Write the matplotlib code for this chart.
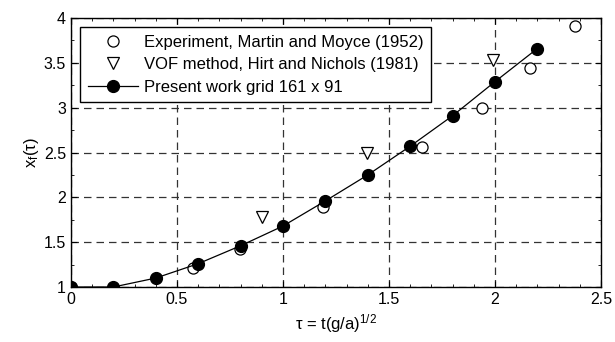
import numpy as np
import matplotlib
matplotlib.use('Agg')
import matplotlib.pyplot as plt
from matplotlib.ticker import MultipleLocator

# Present work grid 161 x 91
TAU_PRESENT = [0.0, 0.2, 0.4, 0.6, 0.8, 1.0, 1.2, 1.4, 1.6, 1.8, 2.0, 2.2]
XF_PRESENT = [1.0, 1.0, 1.10, 1.26, 1.46, 1.68, 1.96, 2.25, 2.57, 2.91, 3.29, 3.66]

# Experiment, Martin and Moyce (1952)
TAU_EXP = [0.0, 0.575, 0.795, 1.19, 1.655, 1.937, 2.165, 2.378]
XF_EXP = [1.0, 1.215, 1.42, 1.89, 2.56, 3.0, 3.44, 3.91]

# VOF method, Hirt and Nichols (1981)
TAU_VOF = [0.902, 1.395, 1.99]
XF_VOF = [1.78, 2.50, 3.53]

XTICKS = [0, 0.5, 1, 1.5, 2, 2.5]
XTICKLABELS = ['0', '0.5', '1', '1.5', '2', '2.5']
YTICKS = [1, 1.5, 2, 2.5, 3, 3.5, 4]
YTICKLABELS = ['1', '1.5', '2', '2.5', '3', '3.5', '4']

plt.rcParams['font.family'] = ['Liberation Sans', 'DejaVu Sans']
plt.rcParams['mathtext.fontset'] = 'custom'
plt.rcParams['mathtext.rm'] = 'Liberation Sans'
plt.rcParams['mathtext.it'] = 'Liberation Sans'

fig = plt.figure(figsize=(6.15, 3.42), dpi=100)
ax = fig.add_axes([0.1154, 0.1608, 0.8618, 0.7865])

ax.plot(TAU_EXP, XF_EXP, 'o', mfc='white', mec='black', ms=8, mew=0.9,
        label='Experiment, Martin and Moyce (1952)', zorder=3)
ax.plot(TAU_VOF, XF_VOF, 'v', mfc='white', mec='black', ms=8, mew=0.9,
        label='VOF method, Hirt and Nichols (1981)', zorder=3)
ax.plot(TAU_PRESENT, XF_PRESENT, '-o', color='black', mfc='black', ms=8.5, lw=0.9,
        label='Present work grid 161 x 91', zorder=4)

ax.set_xticks(XTICKS)
ax.set_xticklabels(XTICKLABELS)
ax.set_yticks(YTICKS)
ax.set_yticklabels(YTICKLABELS)
ax.xaxis.set_minor_locator(MultipleLocator(0.1))
ax.yaxis.set_minor_locator(MultipleLocator(0.25))
ax.set_xlim(0, 2.5)
ax.set_ylim(1, 4)
ax.tick_params(which='both', direction='in', top=True, right=True, labelsize=11.5)
ax.tick_params(which='major', length=4)
ax.tick_params(which='minor', length=2.5)
ax.grid(True, which='major', linestyle=(0, (6, 4)), color='#333333', lw=0.9)
for s in ax.spines.values():
    s.set_linewidth(1.0)

ax.set_xlabel(r'$\tau$ = t(g/a)$^{1/2}$', fontsize=12, labelpad=4)
ax.set_ylabel(r'x$_f$($\tau$)', fontsize=12, labelpad=2)

leg = ax.legend(loc='upper left', fontsize=12, frameon=True, fancybox=False,
                edgecolor='black', framealpha=1, borderaxespad=0.55,
                handlelength=3.0, handletextpad=0.4, borderpad=0.45,
                labelspacing=0.45)
leg.get_frame().set_linewidth(1.0)

fig.savefig('out.png', dpi=100)
